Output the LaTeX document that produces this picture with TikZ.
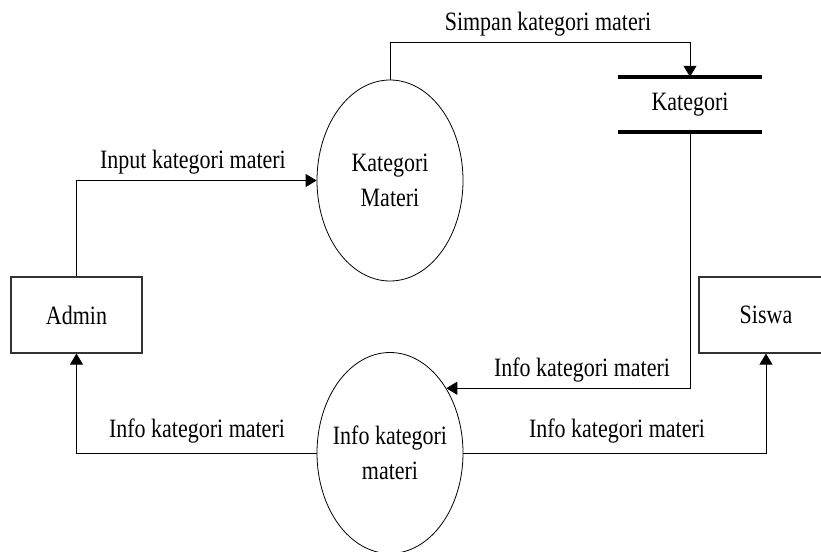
\documentclass[tikz,border=0pt]{standalone}
\usepackage{fontspec}
\setmainfont{Liberation Serif}[FakeStretch=0.83]
\usetikzlibrary{arrows.meta,shapes.geometric}
\begin{document}
\begin{tikzpicture}[x=1pt,y=-1pt,
  every node/.style={font=\fontsize{26.5}{35}\selectfont},
  entity/.style={draw=black!80,line width=1.2pt,minimum width=131pt,minimum height=76pt,inner sep=0pt},
  process/.style={draw,ellipse,line width=0.8pt,minimum width=146pt,minimum height=201pt,inner xsep=-15pt,inner ysep=0pt,align=center},
  store/.style={minimum width=143pt,minimum height=55pt,inner sep=0pt},
  storeline/.style={line width=3.5pt},
  flow/.style={line width=0.8pt,-{Triangle[length=11pt,width=13pt]}},
  lbl/.style={anchor=base,inner sep=0pt}]
\useasboundingbox (0,0) rectangle (821,551);

% external entities
\node[entity] (admin) at (76.5,315) {Admin};
\node[entity,minimum width=134pt] (siswa) at (766,315) {Siswa};

% processes
\node[process] (km) at (390,180.5) {Kategori\\Materi};
\node[process] (ik) at (390,453) {Info kategori\\materi};

% data store
\node[store] (kat) at (690,104.5) {Kategori};
\draw[storeline] (kat.north west) -- (kat.north east);
\draw[storeline] (kat.south west) -- (kat.south east);

% data flows
\coordinate (c1) at (690,42);
\draw[flow] (admin.north) |- (km.west);
\draw[flow] (km.north) |- (c1) -- (kat.north);
\draw[flow] (kat.south) |- (ik.49.5);
\draw[flow] (ik.west) -| (admin.south);
\draw[flow] (ik.east) -| (siswa.south);

% flow labels
\node[lbl] (l1) at (193,168) {Input kategori materi};
\node[lbl] (l2) at (548,31) {Simpan kategori materi};
\node[lbl] (l3) at (582,376) {Info kategori materi};
\node[lbl] (l4) at (197,437) {Info kategori materi};
\node[lbl] (l5) at (617,437) {Info kategori materi};
\end{tikzpicture}
\end{document}
